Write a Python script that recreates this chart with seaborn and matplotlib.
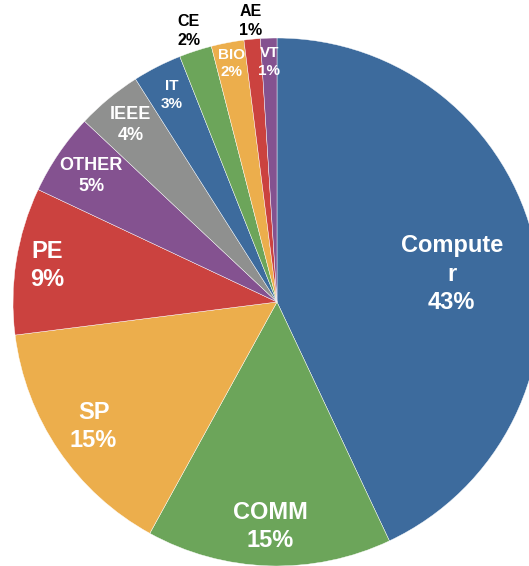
import numpy as np
import seaborn as sns
import matplotlib.pyplot as plt

# share of papers per area (percent), clockwise from 12 o'clock
areas = ["Computer", "COMM", "SP", "PE", "OTHER", "IEEE", "IT", "CE", "BIO", "AE", "VT"]
shares = [43, 15, 15, 9, 5, 4, 3, 2, 2, 1, 1]
label_text = ["Compute\nr", "COMM", "SP", "PE", "OTHER", "IEEE", "IT", "CE", "BIO", "AE", "VT"]

base = ["#3d6b9d", "#6ca55a", "#ecae4c", "#cb423f", "#845290", "#8f908f"]
colors = base + base[:5]

# label styling per slice
label_radius = [0.67, 0.85, 0.84, 0.88, 0.85, 0.87, 0.88, 1.08, 0.92, 1.07, 0.91]
label_shift = [-3.5, 0, 0, 0, 0, 0, 0, 0, 0, 0, 0]
label_size = [17, 17, 17, 17, 13, 13, 11, 11.5, 11, 11.5, 11]
label_color = ["white"] * 7 + ["black", "white", "black", "white"]

sns.set_theme(style="white")
plt.rcParams['font.family'] = ['Liberation Sans', 'DejaVu Sans']

fig = plt.figure(figsize=(5.29, 5.66), dpi=100)
ax = fig.add_axes([0, 0, 1, 1])

wedges, _ = ax.pie(
    shares,
    colors=colors,
    startangle=90,
    counterclock=False,
    radius=1.0,
    wedgeprops=dict(edgecolor="white", linewidth=0.3),
)

for w, txt, v, r, sh, fs, c in zip(wedges, label_text, shares, label_radius,
                                   label_shift, label_size, label_color):
    ang = np.deg2rad((w.theta1 + w.theta2) / 2 + sh)
    ax.text(r * np.cos(ang), r * np.sin(ang), f"{txt}\n{v}%",
            ha="center", va="center", fontsize=fs, fontweight="bold",
            color=c, linespacing=1.3)

# pie is cropped on right and bottom in the reference
scale = 264.0
cx, cy = 277.0, 302.0
ax.set_xlim(-cx / scale, (529 - cx) / scale)
ax.set_ylim(-(566 - cy) / scale, cy / scale)
ax.set_aspect("auto")
ax.axis("off")

fig.savefig("out.png", dpi=100)
